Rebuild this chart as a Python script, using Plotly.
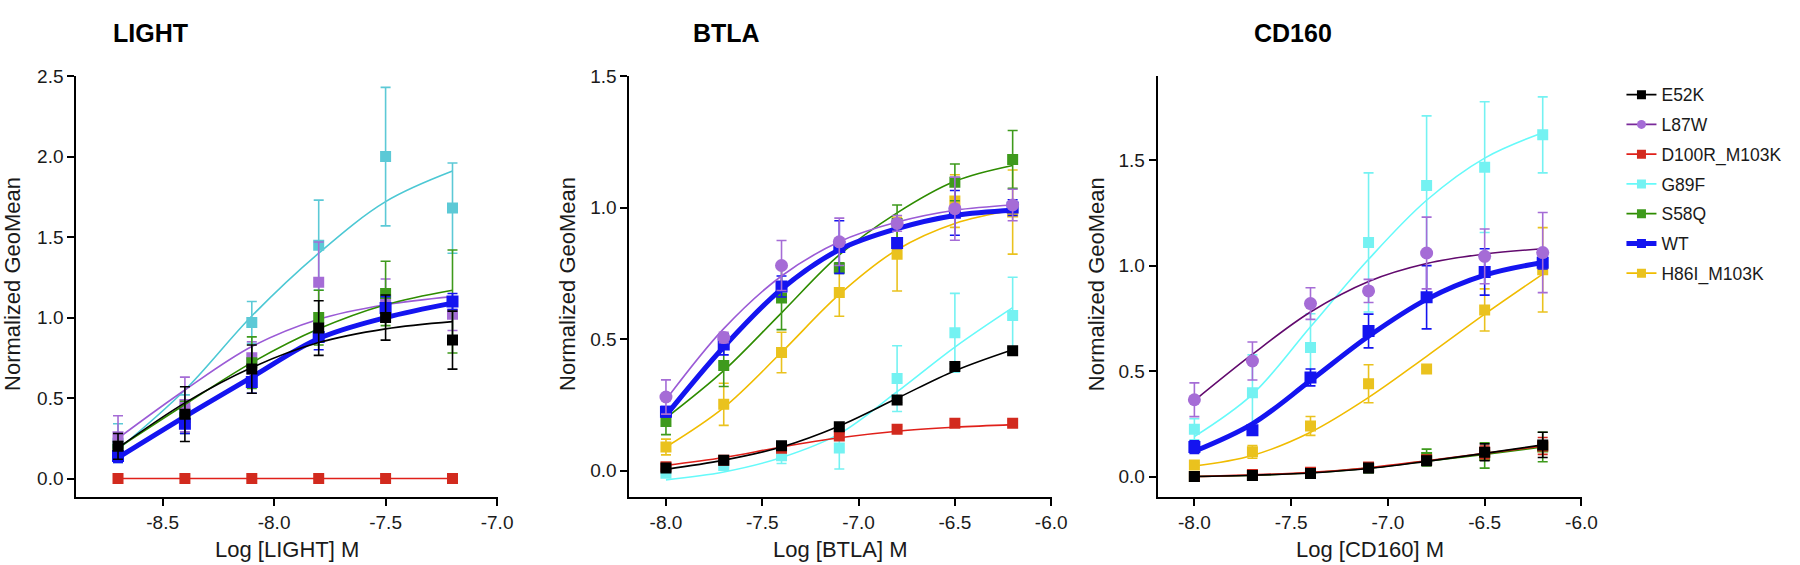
import plotly.graph_objects as go

W, H = 1800, 565

# ---------------- data ----------------
series = ["E52K", "L87W", "D100R_M103K", "G89F", "S58Q", "WT", "H86I_M103K"]

light_dose = [-8.7, -8.4, -8.1, -7.8, -7.5, -7.2]
btla_dose = [-8.0, -7.7, -7.4, -7.1, -6.8, -6.5, -6.2]
cd160_dose = [-8.0, -7.7, -7.4, -7.1, -6.8, -6.5, -6.2]

# LIGHT panel: mean, sem, fitted curve read at each dose
light_E52K = [0.20, 0.40, 0.68, 0.935, 1.00, 0.86]
light_E52K_err = [0.08, 0.17, 0.15, 0.17, 0.14, 0.18]
light_E52K_fit = [0.19, 0.47, 0.69, 0.845, 0.93, 0.975]
light_L87W = [0.26, 0.46, 0.75, 1.22, 1.11, 1.02]
light_L87W_err = [0.13, 0.17, 0.10, 0.25, 0.13, 0.10]
light_L87W_fit = [0.25, 0.55, 0.82, 0.99, 1.08, 1.13]
light_D100R = [0.0, 0.0, 0.0, 0.0, 0.0, 0.0]
light_D100R_err = [0.0, 0.0, 0.0, 0.0, 0.0, 0.0]
light_D100R_fit = [0.0, 0.0, 0.0, 0.0, 0.0, 0.0]
light_G89F = [0.22, 0.42, 0.97, 1.45, 2.00, 1.68]
light_G89F_err = [0.12, 0.10, 0.13, 0.28, 0.43, 0.28]
light_G89F_fit = [0.18, 0.55, 1.01, 1.40, 1.72, 1.91]
light_S58Q = [0.18, 0.38, 0.72, 1.00, 1.15, 1.10]
light_S58Q_err = [0.05, 0.10, 0.16, 0.17, 0.20, 0.32]
light_S58Q_fit = [0.19, 0.46, 0.72, 0.93, 1.08, 1.17]
light_WT = [0.14, 0.34, 0.60, 0.88, 1.06, 1.10]
light_WT_err = [0.04, 0.06, 0.07, 0.08, 0.07, 0.05]
light_WT_fit = [0.13, 0.385, 0.63, 0.87, 1.00, 1.09]

# BTLA panel
btla_E52K = [0.01, 0.04, 0.095, 0.167, 0.269, 0.396, 0.456]
btla_E52K_err = [0.015, 0.01, 0.01, 0.01, 0.01, 0.01, 0.01]
btla_E52K_fit = [0.005, 0.04, 0.09, 0.17, 0.275, 0.38, 0.46]
btla_L87W = [0.28, 0.506, 0.78, 0.87, 0.94, 0.996, 1.01]
btla_L87W_err = [0.065, 0.02, 0.095, 0.09, 0.03, 0.12, 0.06]
btla_L87W_fit = [0.27, 0.54, 0.74, 0.87, 0.945, 0.99, 1.01]
btla_D100R = [0.015, 0.04, 0.085, 0.132, 0.157, 0.18, 0.18]
btla_D100R_err = [0.01, 0.01, 0.01, 0.01, 0.01, 0.01, 0.01]
btla_D100R_fit = [0.02, 0.05, 0.09, 0.125, 0.15, 0.165, 0.175]
btla_G89F = [-0.01, 0.02, 0.057, 0.086, 0.35, 0.524, 0.59]
btla_G89F_err = [0.01, 0.01, 0.03, 0.08, 0.125, 0.15, 0.145]
btla_G89F_fit = [-0.035, -0.005, 0.05, 0.14, 0.30, 0.47, 0.62]
btla_S58Q = [0.187, 0.40, 0.656, 0.77, 0.94, 1.096, 1.183]
btla_S58Q_err = [0.05, 0.08, 0.12, 0.02, 0.07, 0.07, 0.11]
btla_S58Q_fit = [0.20, 0.38, 0.60, 0.82, 0.98, 1.10, 1.16]
btla_WT = [0.224, 0.48, 0.70, 0.85, 0.865, 0.98, 1.00]
btla_WT_err = [0.02, 0.04, 0.04, 0.10, 0.02, 0.085, 0.03]
btla_WT_fit = [0.21, 0.47, 0.69, 0.84, 0.92, 0.97, 0.99]
btla_H86I = [0.09, 0.252, 0.449, 0.677, 0.823, 1.025, 0.983]
btla_H86I_err = [0.03, 0.08, 0.077, 0.09, 0.14, 0.10, 0.16]
btla_H86I_fit = [0.09, 0.24, 0.45, 0.67, 0.84, 0.94, 0.99]

# CD160 panel
cd160_E52K = [0.0, 0.005, 0.015, 0.04, 0.075, 0.115, 0.15]
cd160_E52K_err = [0.005, 0.01, 0.01, 0.02, 0.02, 0.04, 0.06]
cd160_E52K_fit = [0.0, 0.006, 0.017, 0.038, 0.072, 0.11, 0.15]
cd160_L87W = [0.364, 0.548, 0.82, 0.88, 1.06, 1.044, 1.062]
cd160_L87W_err = [0.08, 0.09, 0.075, 0.055, 0.17, 0.13, 0.19]
cd160_L87W_fit = [0.36, 0.58, 0.78, 0.925, 1.01, 1.055, 1.08]
cd160_D100R = [0.0, 0.01, 0.02, 0.045, 0.08, 0.115, 0.145]
cd160_D100R_err = [0.005, 0.01, 0.01, 0.015, 0.02, 0.03, 0.04]
cd160_D100R_fit = [0.0, 0.008, 0.02, 0.042, 0.075, 0.11, 0.145]
cd160_G89F = [0.224, 0.397, 0.612, 1.11, 1.38, 1.467, 1.62]
cd160_G89F_err = [0.05, 0.18, 0.16, 0.33, 0.33, 0.31, 0.18]
cd160_G89F_fit = [0.19, 0.39, 0.71, 1.03, 1.31, 1.51, 1.63]
cd160_S58Q = [0.0, 0.005, 0.015, 0.04, 0.09, 0.10, 0.14]
cd160_S58Q_err = [0.01, 0.01, 0.01, 0.015, 0.04, 0.06, 0.07]
cd160_S58Q_fit = [0.0, 0.006, 0.018, 0.04, 0.073, 0.105, 0.14]
cd160_WT = [0.14, 0.22, 0.47, 0.69, 0.85, 0.97, 1.014]
cd160_WT_err = [0.03, 0.02, 0.04, 0.08, 0.15, 0.11, 0.03]
cd160_WT_fit = [0.12, 0.25, 0.455, 0.665, 0.84, 0.955, 1.015]
cd160_H86I = [0.055, 0.117, 0.24, 0.44, 0.51, 0.79, 0.98]
cd160_H86I_err = [0.01, 0.03, 0.045, 0.09, 0.0, 0.10, 0.20]
cd160_H86I_fit = [0.05, 0.10, 0.21, 0.375, 0.57, 0.77, 0.96]

light_xticks = [-8.5, -8.0, -7.5, -7.0]
btla_xticks = [-8.0, -7.5, -7.0, -6.5, -6.0]
cd160_xticks = [-8.0, -7.5, -7.0, -6.5, -6.0]
light_yticks = [0.0, 0.5, 1.0, 1.5, 2.0, 2.5]
btla_yticks = [0.0, 0.5, 1.0, 1.5]
cd160_yticks = [0.0, 0.5, 1.0, 1.5]

panel_titles = ["LIGHT", "BTLA", "CD160"]
x_titles = ["Log [LIGHT] M", "Log [BTLA] M", "Log [CD160] M"]
y_title = "Normalized GeoMean"

# ---------------- styles ----------------
FONT = "Liberation Sans, Arial, sans-serif"
mk_color = {"E52K": "#000000", "L87W": "#A56CD6", "D100R_M103K": "#D22A1E",
            "G89F": "#74F2F2", "S58Q": "#3E9A1C", "WT": "#1414F0", "H86I_M103K": "#EAC21E"}
ln_color = {"E52K": "#000000", "L87W": "#9B5BD6", "D100R_M103K": "#E0201A",
            "G89F": "#66FAFA", "S58Q": "#2E8C00", "WT": "#1414F0", "H86I_M103K": "#F0BC00"}
light_cyan_mk = "#5CC9D6"
light_cyan_ln = "#4CC8D4"
cd160_purple_ln = "#620A6E"

fig = go.Figure()


def add_series(name, dose, y, err, fit, xa, ya, marker="square", mcol=None, lcol=None):
    mcol = mcol or mk_color[name]
    lcol = lcol or ln_color[name]
    lw = 5 if name == "WT" else 1.6
    if marker == "circle":
        msize = 13
    else:
        msize = 12 if name == "WT" else 11
    fig.add_trace(go.Scatter(x=dose, y=fit, mode="lines", line=dict(color=lcol, width=lw, shape="spline"),
                             xaxis=xa, yaxis=ya, showlegend=False, hoverinfo="skip"))
    fig.add_trace(go.Scatter(x=dose, y=y, mode="markers",
                             marker=dict(symbol=marker, size=msize, color=mcol),
                             error_y=dict(type="data", array=err, color=mcol, thickness=1.6, width=5),
                             xaxis=xa, yaxis=ya, showlegend=False, name=name))


# LIGHT
add_series("G89F", light_dose, light_G89F, light_G89F_err, light_G89F_fit, "x", "y",
           mcol=light_cyan_mk, lcol=light_cyan_ln)
add_series("L87W", light_dose, light_L87W, light_L87W_err, light_L87W_fit, "x", "y")
add_series("S58Q", light_dose, light_S58Q, light_S58Q_err, light_S58Q_fit, "x", "y")
add_series("D100R_M103K", light_dose, light_D100R, light_D100R_err, light_D100R_fit, "x", "y")
add_series("WT", light_dose, light_WT, light_WT_err, light_WT_fit, "x", "y")
add_series("E52K", light_dose, light_E52K, light_E52K_err, light_E52K_fit, "x", "y")

# BTLA
add_series("G89F", btla_dose, btla_G89F, btla_G89F_err, btla_G89F_fit, "x2", "y2")
add_series("D100R_M103K", btla_dose, btla_D100R, btla_D100R_err, btla_D100R_fit, "x2", "y2")
add_series("E52K", btla_dose, btla_E52K, btla_E52K_err, btla_E52K_fit, "x2", "y2")
add_series("H86I_M103K", btla_dose, btla_H86I, btla_H86I_err, btla_H86I_fit, "x2", "y2")
add_series("S58Q", btla_dose, btla_S58Q, btla_S58Q_err, btla_S58Q_fit, "x2", "y2")
add_series("WT", btla_dose, btla_WT, btla_WT_err, btla_WT_fit, "x2", "y2")
add_series("L87W", btla_dose, btla_L87W, btla_L87W_err, btla_L87W_fit, "x2", "y2", marker="circle")

# CD160
add_series("S58Q", cd160_dose, cd160_S58Q, cd160_S58Q_err, cd160_S58Q_fit, "x3", "y3")
add_series("D100R_M103K", cd160_dose, cd160_D100R, cd160_D100R_err, cd160_D100R_fit, "x3", "y3")
add_series("E52K", cd160_dose, cd160_E52K, cd160_E52K_err, cd160_E52K_fit, "x3", "y3")
add_series("H86I_M103K", cd160_dose, cd160_H86I, cd160_H86I_err, cd160_H86I_fit, "x3", "y3")
add_series("G89F", cd160_dose, cd160_G89F, cd160_G89F_err, cd160_G89F_fit, "x3", "y3")
add_series("WT", cd160_dose, cd160_WT, cd160_WT_err, cd160_WT_fit, "x3", "y3")
add_series("L87W", cd160_dose, cd160_L87W, cd160_L87W_err, cd160_L87W_fit, "x3", "y3",
           marker="circle", lcol=cd160_purple_ln)

# legend-only entries (no data marks)
leg_marker = {"L87W": "circle"}
leg_line = {"L87W": "#7A2A9A"}
for s in series:
    fig.add_trace(go.Scatter(x=[None], y=[None], mode="lines+markers", name=s, legendgroup=s,
                             line=dict(color=leg_line.get(s, ln_color[s]), width=5 if s == "WT" else 1.6),
                             marker=dict(symbol=leg_marker.get(s, "square"), size=9, color=mk_color[s]),
                             xaxis="x3", yaxis="y3", showlegend=True))


def px_x(p):
    return p / W


def px_y(p):
    return 1 - p / H


ydom = [px_y(496), px_y(67)]
axis_common = dict(showline=True, linecolor="black", linewidth=2, ticks="outside", ticklen=7,
                   tickwidth=2, tickcolor="black", showgrid=False, zeroline=False,
                   tickfont=dict(family=FONT, size=19, color="#1a1a1a"))


def fmt(v):
    return "%.1f" % v


fig.update_layout(
    width=W, height=H, margin=dict(l=0, r=0, t=0, b=0),
    paper_bgcolor="white", plot_bgcolor="white",
    xaxis=dict(domain=[px_x(77), px_x(502)], range=[-8.887, -6.998], anchor="y",
               tickvals=light_xticks, ticktext=[fmt(v) for v in light_xticks], **axis_common),
    yaxis=dict(domain=ydom, range=[-0.116, 2.502], anchor="x",
               tickvals=light_yticks, ticktext=[fmt(v) for v in light_yticks], **axis_common),
    xaxis2=dict(domain=[px_x(635), px_x(1061)], range=[-8.19, -5.998], anchor="y2",
                tickvals=btla_xticks, ticktext=[fmt(v) for v in btla_xticks], **axis_common),
    yaxis2=dict(domain=ydom, range=[-0.101, 1.501], anchor="x2",
                tickvals=btla_yticks, ticktext=[fmt(v) for v in btla_yticks], **axis_common),
    xaxis3=dict(domain=[px_x(1168), px_x(1596)], range=[-8.19, -5.998], anchor="y3",
                tickvals=cd160_xticks, ticktext=[fmt(v) for v in cd160_xticks], **axis_common),
    yaxis3=dict(domain=ydom, range=[-0.098, 1.90], anchor="x3",
                tickvals=cd160_yticks, ticktext=[fmt(v) for v in cd160_yticks], **axis_common),
    legend=dict(x=px_x(1636), y=px_y(68), xanchor="left", yanchor="top",
                font=dict(family=FONT, size=17.5, color="#1a1a1a"), tracegroupgap=4,
                traceorder="grouped", bgcolor="rgba(0,0,0,0)", itemwidth=30),
    showlegend=True,
)

title_x = [152, 733, 1305]
xt_x = [290, 848, 1382]
yt_x = [12, 572, 1106]
for i in range(3):
    fig.add_annotation(text="<b>%s</b>" % panel_titles[i], xref="paper", yref="paper",
                       x=px_x(title_x[i]), y=px_y(23), showarrow=False,
                       font=dict(family=FONT, size=25, color="black"), xanchor="center", yanchor="middle")
    fig.add_annotation(text=x_titles[i], xref="paper", yref="paper",
                       x=px_x(xt_x[i]), y=px_y(549), showarrow=False,
                       font=dict(family=FONT, size=22, color="#1a1a1a"), xanchor="center", yanchor="middle")
    fig.add_annotation(text=y_title, xref="paper", yref="paper", textangle=-90,
                       x=px_x(yt_x[i]), y=px_y(279), showarrow=False,
                       font=dict(family=FONT, size=22, color="#1a1a1a"), xanchor="center", yanchor="middle")

fig.write_html("out.html", config={"displayModeBar": False},
               post_script="document.body.style.margin='0px';document.body.style.overflow='hidden';")
